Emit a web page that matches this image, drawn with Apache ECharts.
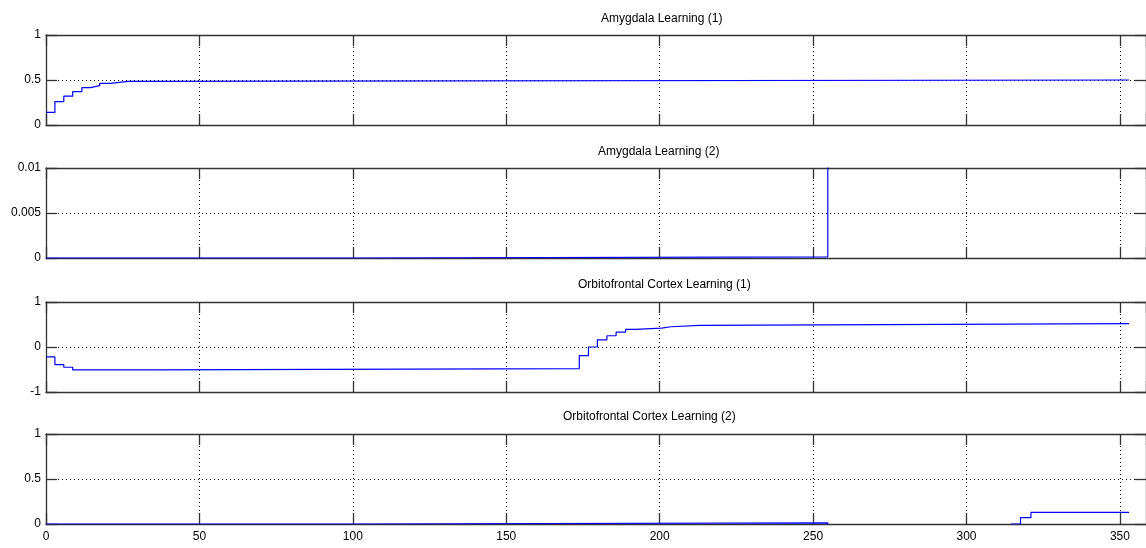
<!DOCTYPE html>
<html>
<head>
<meta charset="utf-8">
<script src="https://cdn.jsdelivr.net/npm/echarts@6/dist/echarts.min.js"></script>
<style>
  html, body { margin: 0; padding: 0; background: #fff; }
  #box { width: 1146px; height: 548px; }
</style>
</head>
<body>
<div id="box"></div>
<script>
// step series: value y[i] holds from x[i] to x[i+1]
var amy1X = [0, 2.9, 5.8, 8.7, 11.7, 14.5, 17.5, 21, 26.8, 353];
var amy1Y = [0.14, 0.26, 0.32, 0.37, 0.415, 0.437, 0.463, 0.485, 0.5, 0.5];

var amy2X = [0, 100, 254.8, 353];
var amy2Y = [0, 0.00012, 0.5, 0.5];

var ofc1X = [0, 2.9, 5.8, 8.7, 35.6, 173.8, 176.8, 179.7, 182.8, 185.8, 188.9, 192, 200.6, 203.7, 213, 353];
var ofc1Y = [-0.22, -0.39, -0.45, -0.51, -0.48, -0.19, 0.0, 0.16, 0.25, 0.33, 0.39, 0.42, 0.45, 0.48, 0.52, 0.52];

var ofc2X = [0, 100, 254.8, 314.6, 317.6, 321, 353];
var ofc2Y = [0, 0.012, -0.05, 0, 0.07, 0.13, 0.13];

var titles = ['Amygdala Learning (1)', 'Amygdala Learning (2)', 'Orbitofrontal Cortex Learning (1)', 'Orbitofrontal Cortex Learning (2)'];
var yMin = [0, 0, -1, 0];
var yMax = [1, 0.01, 1, 1];
var yStep = [0.5, 0.005, 1, 0.5];

var panelTop = [35, 168, 302, 434];
var titleLeft = [601, 598, 578, 563];
var titleTop = [13, 146, 279, 411];

var font = "'Liberation Sans', Arial, sans-serif";
var axisColor = '#333';

function pairs(xs, ys) {
    var out = [];
    for (var i = 0; i < xs.length; i++) out.push([xs[i], ys[i]]);
    return out;
}
var seriesData = [pairs(amy1X, amy1Y), pairs(amy2X, amy2Y), pairs(ofc1X, ofc1Y), pairs(ofc2X, ofc2Y)];

var grids = [], xAxes = [], yAxes = [], series = [], titleList = [];
for (var i = 0; i < 4; i++) {
    grids.push({ left: 46, top: panelTop[i], width: 1103, height: 90, containLabel: false });
    titleList.push({
        text: titles[i], left: titleLeft[i], top: titleTop[i], padding: 0,
        textStyle: { fontSize: 12, fontWeight: 'normal', color: '#000', fontFamily: font }
    });
    // bottom x axis (labels only on the last panel)
    xAxes.push({
        type: 'value', gridIndex: i, min: 0, max: 358.5, interval: 50, position: 'bottom',
        axisLine: { onZero: false, lineStyle: { color: axisColor, width: 1.3 } },
        axisTick: { inside: true, length: 11, lineStyle: { color: axisColor, width: 1.3 } },
        axisLabel: { show: i === 3, showMaxLabel: false, margin: 7, color: '#000', fontSize: 12, fontFamily: font },
        splitLine: { show: true, lineStyle: { color: '#000', type: [1, 3], width: 1 } }
    });
    // top x axis, closes the box
    xAxes.push({
        type: 'value', gridIndex: i, min: 0, max: 358.5, interval: 50, position: 'top',
        axisLine: { onZero: false, lineStyle: { color: axisColor, width: 1.3 } },
        axisTick: { inside: true, length: 11, lineStyle: { color: axisColor, width: 1.3 } },
        axisLabel: { show: false },
        splitLine: { show: false }
    });
    yAxes.push({
        type: 'value', gridIndex: i, min: yMin[i], max: yMax[i], interval: yStep[i], position: 'left',
        axisLine: { show: true, onZero: false, lineStyle: { color: axisColor, width: 1.3 } },
        axisTick: { show: true, inside: true, length: 11, lineStyle: { color: axisColor, width: 1.3 } },
        axisLabel: { margin: 5, color: '#000', fontSize: 12, fontFamily: font },
        splitLine: { show: true, lineStyle: { color: '#000', type: [1, 3], width: 1 } }
    });
    yAxes.push({
        type: 'value', gridIndex: i, min: yMin[i], max: yMax[i], interval: yStep[i], position: 'right',
        axisLine: { show: true, onZero: false, lineStyle: { color: axisColor, width: 1.3 } },
        axisTick: { show: true, inside: true, length: 11, lineStyle: { color: axisColor, width: 1.3 } },
        axisLabel: { show: false },
        splitLine: { show: false }
    });
    series.push({
        type: 'line', xAxisIndex: 2 * i, yAxisIndex: 2 * i,
        step: 'end', showSymbol: false, clip: true,
        lineStyle: { color: '#0000ff', width: 1.2 },
        data: seriesData[i]
    });
}

var myChart = echarts.init(document.getElementById('box'));
var option = {
    backgroundColor: '#fff',
    animation: false,
    title: titleList,
    grid: grids,
    xAxis: xAxes,
    yAxis: yAxes,
    series: series
};
option && myChart.setOption(option);
</script>
</body>
</html>
